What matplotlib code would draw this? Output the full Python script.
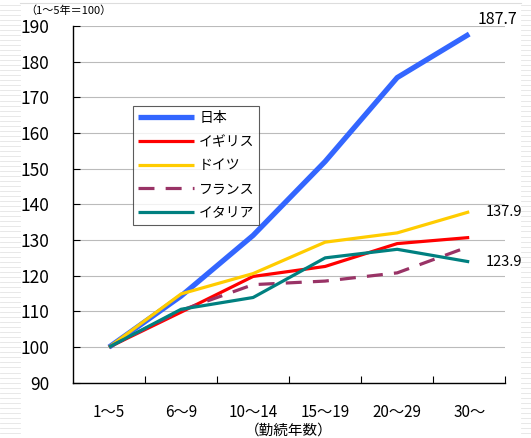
import numpy as np
import matplotlib.pyplot as plt
from matplotlib.lines import Line2D

plt.rcParams['font.family'] = ['Noto Sans CJK JP', 'DejaVu Sans']

categories = ['1～5', '6～9', '10～14', '15～19', '20～29', '30～']
japan = [100, 114.3, 131.3, 152.0, 175.5, 187.7]
uk = [100, 109.8, 119.8, 122.6, 129.0, 130.7]
germany = [100, 114.9, 120.6, 129.4, 132.0, 137.9]
france = [100, 110.3, 117.5, 118.5, 120.8, 128.2]
italy = [100, 110.6, 113.9, 125.0, 127.4, 123.9]

series = [
    ('日本', japan, '#3366ff', '-', 3.8),
    ('イギリス', uk, '#ff0000', '-', 2.3),
    ('ドイツ', germany, '#ffcc00', '-', 2.3),
    ('フランス', france, '#993366', (0, (5, 3.5)), 2.3),
    ('イタリア', italy, '#008080', '-', 2.3),
]

fig = plt.figure(figsize=(5.31, 4.38), dpi=100)

# faint striped slide edges
for y in np.arange(0.0, 1.0, 0.0115):
    fig.add_artist(Line2D([0, 0.038], [y, y], color='#e4e4e4', lw=0.6))
    fig.add_artist(Line2D([0.982, 1.0], [y, y], color='#e4e4e4', lw=0.6))
fig.add_artist(Line2D([0.038, 0.982], [0.993, 0.993], color='#dddddd', lw=0.8))

ax = fig.add_axes([0.1375, 0.126, 0.814, 0.815])
x = np.arange(len(categories))
for name, vals, color, ls, lw in series:
    ax.plot(x, vals, color=color, linestyle=ls, linewidth=lw, label=name,
            solid_capstyle='butt', dash_capstyle='butt')

ax.set_xlim(-0.5, len(categories) - 0.5)
ax.set_ylim(90, 190)
ax.set_yticks(np.arange(90, 191, 10))
ax.set_xticks(x)
ax.set_xticklabels(categories, fontsize=11)
ax.set_xticks(np.arange(0.5, len(categories), 1), minor=True)
ax.tick_params(axis='x', which='major', length=0, pad=15)
ax.tick_params(axis='x', which='minor', direction='in', length=5, width=0.8)
ax.tick_params(axis='y', direction='in', length=5, width=0.8, labelsize=12.5, pad=17)
ax.grid(axis='y', color='#bbbbbb', linewidth=0.8)
ax.set_axisbelow(True)
for s in ['top', 'right']:
    ax.spines[s].set_visible(False)
for s in ['left', 'bottom']:
    ax.spines[s].set_linewidth(1.0)

ax.set_xlabel('（勤続年数）', fontsize=10.5, labelpad=2)

ax.annotate(f'{japan[-1]:.1f}', (x[-1], japan[-1]), xytext=(6, 4),
            textcoords='offset points', fontsize=11.5, va='bottom', ha='left')
ax.annotate(f'{germany[-1]:.1f}', (x[-1], germany[-1]), xytext=(12, 0),
            textcoords='offset points', fontsize=10.5, va='center', ha='left')
ax.annotate(f'{italy[-1]:.1f}', (x[-1], italy[-1]), xytext=(12, 0),
            textcoords='offset points', fontsize=10.5, va='center', ha='left')

fig.text(0.048, 0.976, '（1～5年＝100）', fontsize=8, va='center', ha='left')

leg = ax.legend(loc='upper left', bbox_to_anchor=(0.139, 0.775), fontsize=10,
                frameon=True, fancybox=False, edgecolor='#333333',
                handlelength=4.0, labelspacing=0.7, borderpad=0.35,
                handletextpad=0.4, borderaxespad=0)
leg.get_frame().set_linewidth(0.8)

fig.savefig('out.png', dpi=100)
